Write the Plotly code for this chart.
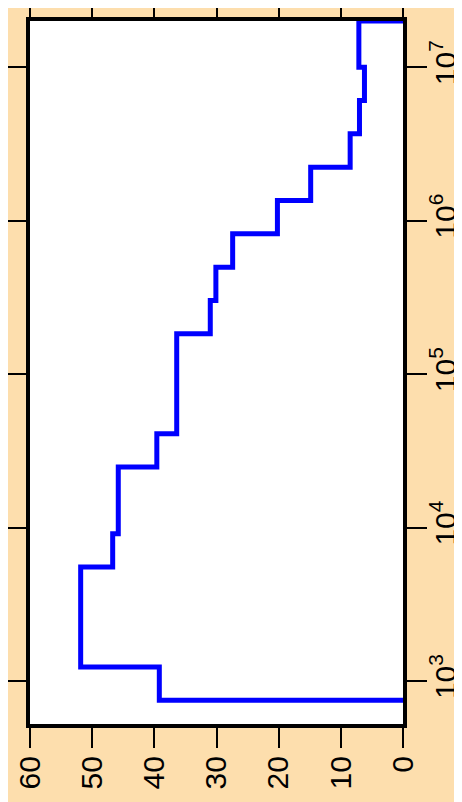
import plotly.graph_objects as go

# Bin edges along the (log) size axis, drawn vertically
bin_edges = [748.5, 1234.1, 2034.7, 3354.6, 5530.8, 9118.8, 15034.4, 24787.5,
             40867.7, 67379.5, 111090.0, 183156.4, 301973.8, 497870.7,
             820849.9, 1353352.8, 2231301.6, 3678794.4, 6065306.6, 10000000.0,
             20000000.0]
# Step values for each bin (horizontal axis, 0-60)
bin_values = [39.2, 51.85, 51.85, 51.85, 46.7, 45.8, 45.8, 39.6, 36.4, 36.4,
              36.4, 31.0, 30.1, 27.4, 20.2, 14.85, 8.5, 7.0, 6.2, 7.1]

value_ticks = [60, 50, 40, 30, 20, 10, 0]
size_ticks = [1e3, 1e4, 1e5, 1e6, 1e7]
size_tick_text = ["10<sup>3</sup>", "10<sup>4</sup>", "10<sup>5</sup>",
                  "10<sup>6</sup>", "10<sup>7</sup>"]

xs = [0] + bin_values + [0]
ys = [bin_edges[0]] + bin_edges[1:] + [bin_edges[-1]]

fig = go.Figure()
fig.add_trace(go.Scatter(
    x=xs, y=ys, mode="lines", line=dict(color="#0000FF", width=5, shape="hv"),
    showlegend=False, hoverinfo="skip"))

font = dict(family="Arial, Liberation Sans, sans-serif", size=30, color="black")

fig.update_layout(
    width=454, height=794, autosize=False,
    paper_bgcolor="#FDDEAD", plot_bgcolor="white",
    margin=dict(l=22, r=59, t=13, b=78, pad=0),
    font=font,
    xaxis=dict(range=[60, 0], tickvals=value_ticks, ticktext=[str(v) for v in value_ticks],
               tickangle=-90, ticks="outside", ticklen=20, tickwidth=2, tickcolor="black",
               showline=True, linewidth=4, linecolor="black", mirror="ticks",
               showgrid=False, zeroline=False, tickfont=font, automargin=False,
               ticklabelstandoff=-4),
    yaxis=dict(type="log", range=[2.72, 7.301], side="right",
               tickvals=size_ticks, ticktext=size_tick_text,
               tickangle=-90, ticks="outside", ticklen=20, tickwidth=2, tickcolor="black",
               showline=True, linewidth=4, linecolor="black", mirror="ticks",
               showgrid=False, zeroline=False, tickfont=font, automargin=False,
               ticklabelstandoff=-7),
)

fig.write_html("out.html")
